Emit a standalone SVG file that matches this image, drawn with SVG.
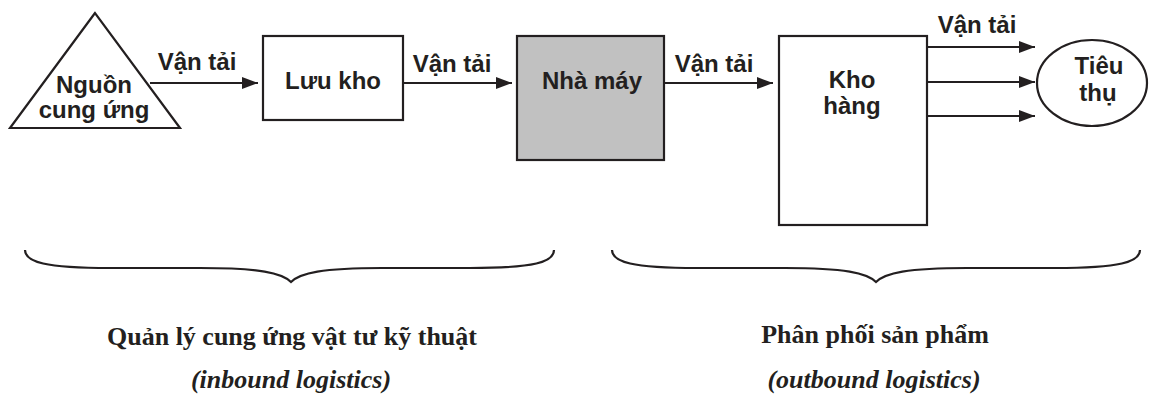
<svg xmlns="http://www.w3.org/2000/svg" width="1150" height="403" viewBox="0 0 1150 403">
<style>
.n{fill:none;stroke:#231f20;stroke-width:2.2}
.t{font-family:"Liberation Sans",Arial,sans-serif;font-weight:bold;font-size:24px;fill:#231f20;text-anchor:middle}
.c{stroke:#231f20;stroke-width:2.2;fill:none}
.b{fill:none;stroke:#231f20;stroke-width:2.2}
.s{font-family:"Liberation Serif","Times New Roman",serif;font-weight:bold;font-size:26px;fill:#231f20;text-anchor:middle}
.si{font-style:italic}
</style>
<defs>
<marker id="ah" viewBox="0 0 16 12" refX="16" refY="6" markerWidth="16" markerHeight="12" markerUnits="userSpaceOnUse" orient="auto">
<path d="M0,0 L16,6 L0,12 Z" fill="#231f20"/>
</marker>
</defs>
<rect width="1150" height="403" fill="#fff"/>
<g id="nguon">
<polygon class="n" points="95,13 10,128 180,128" fill="#fff"/>
<text class="t" x="94" y="93">Nguồn</text>
<text class="t" x="94" y="118">cung ứng</text>
</g>
<g id="luukho">
<rect class="n" x="263" y="36" width="140" height="84" fill="#fff"/>
<text class="t" x="333" y="89">Lưu kho</text>
</g>
<g id="nhamay">
<rect x="517" y="36" width="147" height="124" fill="#c1c1c1" stroke="#231f20" stroke-width="2.2"/>
<text class="t" x="592" y="89">Nhà máy</text>
</g>
<g id="khohang">
<rect class="n" x="779" y="36" width="148" height="189" fill="#fff"/>
<text class="t" x="852" y="88">Kho</text>
<text class="t" x="852" y="114">hàng</text>
</g>
<g id="tieuthu">
<ellipse class="n" cx="1092" cy="83" rx="55" ry="43" fill="#fff"/>
<text class="t" x="1099" y="74">Tiêu</text>
<text class="t" x="1098" y="101">thụ</text>
</g>
<g id="connectors">
<line class="c" x1="150" y1="83" x2="258" y2="83" marker-end="url(#ah)"/>
<line class="c" x1="403" y1="83" x2="512" y2="83" marker-end="url(#ah)"/>
<line class="c" x1="664" y1="83" x2="773" y2="83" marker-end="url(#ah)"/>
<line class="c" x1="927" y1="47" x2="1035" y2="47" marker-end="url(#ah)"/>
<line class="c" x1="927" y1="82" x2="1035" y2="82" marker-end="url(#ah)"/>
<line class="c" x1="927" y1="116" x2="1035" y2="116" marker-end="url(#ah)"/>
<text class="t" x="197" y="70">Vận tải</text>
<text class="t" x="452" y="72">Vận tải</text>
<text class="t" x="714" y="72">Vận tải</text>
<text class="t" x="977" y="33">Vận tải</text>
</g>
<g id="braces">
<path class="b" d="M25,250 C25,262 45,268 110,268 L200,268 C260,268 282,273 291,282 C300,273 322,268 382,268 L470,268 C535,268 554,262 554,250"/>
<path class="b" d="M612,250 C612,262 632,268 697,268 L785,268 C845,268 867,273 876,282 C885,273 907,268 967,268 L1055,268 C1120,268 1140,262 1140,250"/>
</g>
<g id="captions">
<text class="s" x="292" y="345">Quản lý cung ứng vật tư kỹ thuật</text>
<text class="s si" x="291" y="388">(inbound logistics)</text>
<text class="s" x="875" y="343">Phân phối sản phẩm</text>
<text class="s si" x="874" y="388">(outbound logistics)</text>
</g>
</svg>
